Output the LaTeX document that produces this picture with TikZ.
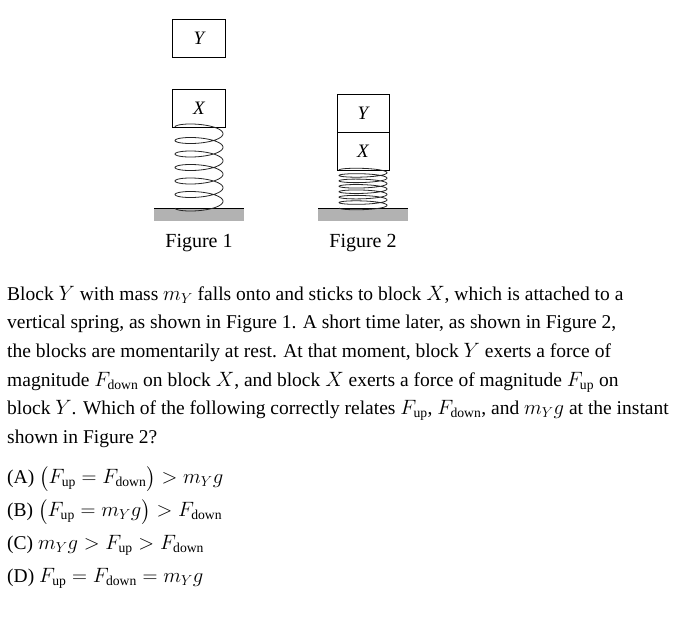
\documentclass[tikz,border=0pt]{standalone}
\usepackage{fontspec}
\setmainfont{Liberation Serif}
\usepackage{amsmath}
\tikzset{
    block/.style={draw,thick,minimum width=53pt,minimum height=38pt,inner sep=0pt,
        font=\fontsize{19}{19}\selectfont\itshape},
    ground/.style={fill=black!30},
    coil/.style={thick,black!85},
    caption/.style={font=\fontsize{20}{20}\selectfont}
}
\newcommand{\Fup}{F_{\mathrm{up}}}
\newcommand{\Fdn}{F_{\mathrm{down}}}
\begin{document}
\begin{tikzpicture}[x=1pt,y=-1pt]
    \useasboundingbox (0,0) rectangle (687,627);
    % Figure 1
    \node[block] (y1) at (199,38) {Y};
    \node[block] (x1) at (199,108) {X};
    \fill[ground] (154,208) rectangle (244,221);
    \draw[thick] (154,208) -- (244,208);
    \draw[coil,domain=0:2160,samples=300,variable=\t]
        plot ({199-24*cos(\t)},{127+\t/2160*81-6*sin(\t)});
    \node[caption] (c1) at (199,243) {Figure 1};
    % Figure 2
    \node[block,minimum width=52pt] (y2) at (363,113) {Y};
    \node[block,minimum width=52pt] (x2) at (363,151) {X};
    \fill[ground] (318,208) rectangle (408,221);
    \draw[thick] (318,208) -- (408,208);
    \draw[coil,domain=0:2520,samples=300,variable=\t]
        plot ({363-24*cos(\t)},{170+\t/2520*38-3*sin(\t)});
    \node[caption] (c2) at (363,243) {Figure 2};
    % text
    \node[anchor=north west,align=left,inner sep=0pt,
        font=\fontsize{19.5}{28.6}\selectfont] (q) at (7,286) {%
        Block $Y$ with mass $m_Y$ falls onto and sticks to block $X$, which is attached to a\\
        vertical spring, as shown in Figure 1. A short time later, as shown in Figure 2,\\
        the blocks are momentarily at rest. At that moment, block $Y$ exerts a force of\\
        magnitude $\Fdn$ on block $X$, and block $X$ exerts a force of magnitude $\Fup$ on\\
        block $Y$. Which of the following correctly relates $\Fup$, $\Fdn$, and $m_Y g$ at the instant\\
        shown in Figure 2?};
    \node[anchor=north west,align=left,inner sep=0pt,
        font=\fontsize{19.5}{33}\selectfont] (ans) at (7,466) {%
        (A) $\bigl(\Fup=\Fdn\bigr)>m_Y g$\\
        (B) $\bigl(\Fup=m_Y g\bigr)>\Fdn$\\
        (C) $m_Y g>\Fup>\Fdn$\\
        (D) $\Fup=\Fdn=m_Y g$};
\end{tikzpicture}
\end{document}
